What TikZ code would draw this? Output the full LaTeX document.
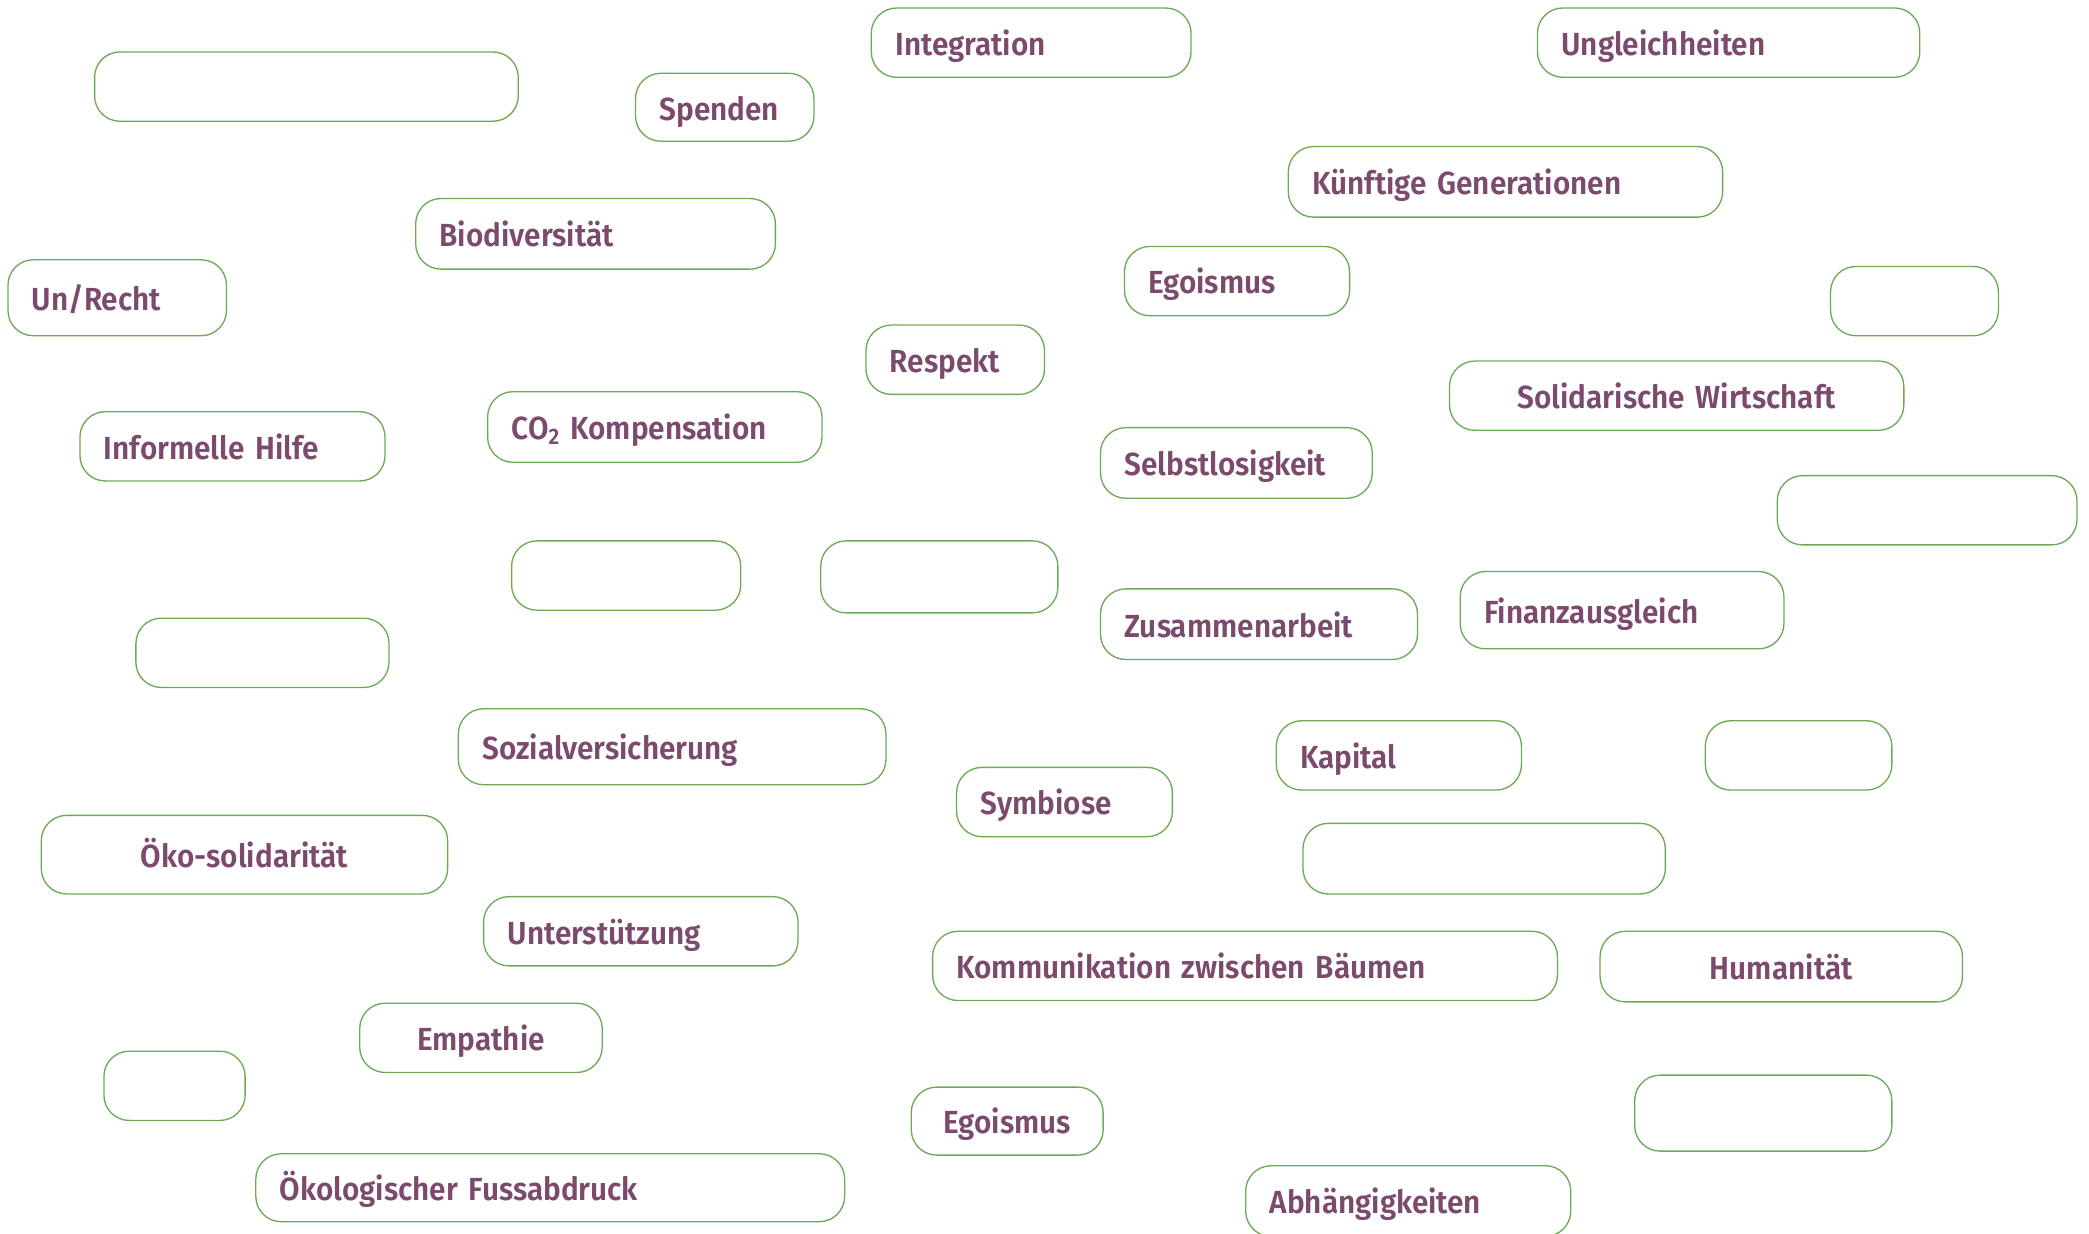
\documentclass[tikz,border=0pt]{standalone}
\usepackage{fontspec}
\setmainfont{Fira Sans}[UprightFont={* SemiBold},FakeStretch=0.93]
\definecolor{txtpurple}{HTML}{7B4A6C}
\definecolor{boxgreen}{HTML}{6DAA55}
\tikzset{
  box/.style={draw=boxgreen, line width=1pt, rounded corners=19pt, rectangle,
    inner xsep=18pt, inner ysep=0pt, text=txtpurple,
    text height=19.3pt, text depth=0pt,
    font=\fontsize{24pt}{28pt}\selectfont},
}
\newcommand\boxL[6]{%
  \pgfmathsetmacro\bw{#4-#2}\pgfmathsetmacro\bh{#5-#3}%
  \pgfmathsetmacro\tw{#4-#2-36}%
  \node[box,minimum width=\bw pt,minimum height=\bh pt,text width=\tw pt,align=left]
    (#1) at ({(#2+#4)/2},{(#3+#5)/2}) {#6};}
\newcommand\boxC[6]{%
  \pgfmathsetmacro\bw{#4-#2}\pgfmathsetmacro\bh{#5-#3}%
  \pgfmathsetmacro\tw{#4-#2-36}%
  \node[box,minimum width=\bw pt,minimum height=\bh pt,text width=\tw pt,align=center]
    (#1) at ({(#2+#4)/2},{(#3+#5)/2}) {#6};}
\begin{document}
\begin{tikzpicture}[x=1pt,y=-1pt]
\useasboundingbox (0,0) rectangle (1568,926);
\boxL{e1}{71}{39}{389}{91}{}
\boxL{spenden}{477}{55}{611}{106}{Spenden}
\boxL{integration}{654}{6}{894}{58}{Integration}
\boxL{ungleich}{1154}{6}{1441}{58}{Ungleichheiten}
\boxL{kuenftig}{967}{110}{1293}{163}{Künftige Generationen}
\boxL{biodiv}{312}{149}{582}{202}{Biodiversität}
\boxL{unrecht}{6}{195}{170}{252}{Un/Recht}
\boxL{egoismus1}{844}{185}{1013}{237}{Egoismus}
\boxL{e2}{1374}{200}{1500}{252}{}
\boxL{respekt}{650}{244}{784}{296}{Respekt}
\boxC{solwirt}{1088}{271}{1429}{323}{Solidarische Wirtschaft}
\boxL{infhilfe}{60}{309}{289}{361}{Informelle Hilfe}
\boxL{co2}{366}{294}{617}{347}{CO\textsubscript{2} Kompensation}
\boxL{selbstlos}{826}{321}{1030}{374}{Selbstlosigkeit}
\boxL{e3}{1334}{357}{1559}{409}{}
\boxL{e4}{384}{406}{556}{458}{}
\boxL{e5}{616}{406}{794}{460}{}
\boxL{zusammen}{826}{442}{1064}{495}{Zusammenarbeit}
\boxL{finanz}{1096}{429}{1339}{487}{Finanzausgleich}
\boxL{e6}{102}{464}{292}{516}{}
\boxL{sozial}{344}{532}{665}{589}{Sozialversicherung}
\boxL{kapital}{958}{541}{1142}{593}{Kapital}
\boxL{e7}{1280}{541}{1420}{593}{}
\boxL{symbiose}{718}{576}{880}{628}{Symbiose}
\boxC{oekosol}{31}{612}{336}{671}{Öko-solidarität}
\boxL{e8}{978}{618}{1250}{671}{}
\boxL{unterst}{363}{673}{599}{725}{Unterstützung}
\boxL{kommun}{700}{699}{1169}{751}{Kommunikation zwischen Bäumen}
\boxC{human}{1201}{699}{1473}{752}{Humanität}
\boxC{empathie}{270}{753}{452}{805}{Empathie}
\boxL{e9}{78}{789}{184}{841}{}
\boxC{egoismus2}{684}{816}{828}{867}{Egoismus}
\boxL{e10}{1227}{807}{1420}{864}{}
\boxL{oekofuss}{192}{866}{634}{917}{Ökologischer Fussabdruck}
\boxL{abhaeng}{935}{875}{1179}{928}{Abhängigkeiten}
\end{tikzpicture}
\end{document}
